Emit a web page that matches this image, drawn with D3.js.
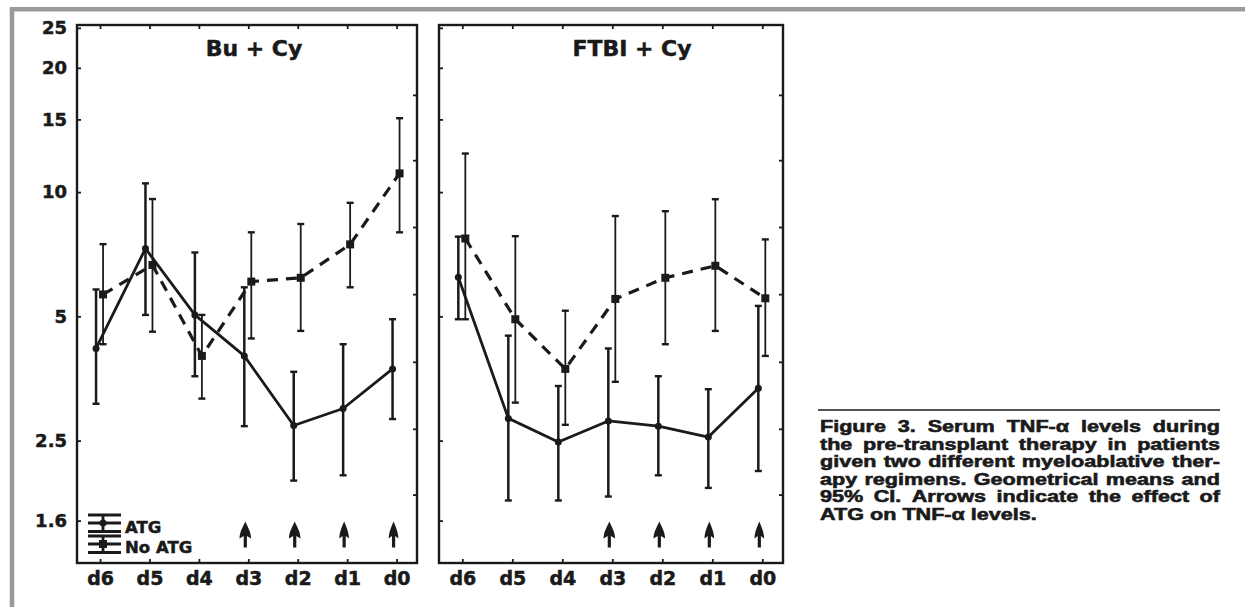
<!DOCTYPE html>
<html><head><meta charset="utf-8">
<script src="https://cdn.jsdelivr.net/npm/d3@7"></script>
<style>
body{margin:0;background:#fff}
svg{display:block}
text{font-family:"DejaVu Sans",sans-serif;font-weight:bold;fill:#1a1a1a;stroke:#1a1a1a;stroke-width:0.5px}
text.cap{font-family:"Liberation Sans",Arial,sans-serif;stroke-width:0.6px}
</style>
</head><body>
<svg id="c" width="1245" height="607"></svg>
<script>
// ---------- data ----------
const days = ["d6","d5","d4","d3","d2","d1","d0"];
const yTickLabels = [25, 20, 15, 10, 5, 2.5, 1.6];
const rightTicks = [17.2, 11.95, 8.23, 5.66, 3.88, 2.67, 1.85];
const arrowDays = ["d3","d2","d1","d0"];

// Bu + Cy
const buAtgMean = [4.18, 7.30, 5.04, 4.01, 2.72, 2.99, 3.73];
const buAtgLow  = [3.07, 5.04, 3.58, 2.71, 2.00, 2.06, 2.82];
const buAtgHigh = [5.81, 10.5, 7.14, 5.88, 3.67, 4.28, 4.92];
const buNoMean  = [5.65, 6.66, 4.01, 6.07, 6.20, 7.47, 11.1];
const buNoLow   = [4.28, 4.59, 3.16, 4.42, 4.61, 5.88, 7.99];
const buNoHigh  = [7.48, 9.62, 5.04, 7.99, 8.37, 9.42, 15.1];

// FTBI + Cy
const ftAtgMean = [6.22, 2.83, 2.48, 2.79, 2.71, 2.55, 3.35];
const ftAtgLow  = [4.92, 1.79, 1.79, 1.83, 2.06, 1.92, 2.11];
const ftAtgHigh = [7.80, 4.49, 3.39, 4.18, 3.58, 3.33, 5.30];
const ftNoMean  = [7.72, 4.92, 3.73, 5.51, 6.20, 6.63, 5.53];
const ftNoLow   = [4.92, 3.09, 2.73, 3.47, 4.28, 4.61, 4.01];
const ftNoHigh  = [12.4, 7.82, 5.16, 8.75, 8.99, 9.61, 7.68];

const legendLabels = ["ATG", "No ATG"];
const captionLines = [
  "Figure 3. Serum TNF-\u03b1 levels during",
  "the pre-transplant therapy in patients",
  "given two different myeloablative ther-",
  "apy regimens. Geometrical means and",
  "95% CI. Arrows indicate the effect of",
  "ATG on TNF-\u03b1 levels."
];

// ---------- layout ----------
const ink = "#1a1a1a";
const svg = d3.select("#c");
const yTop = 25, yBottom = 563;
const y = d3.scaleLog().domain([1.263, 25.4]).range([yBottom, yTop]);

// outer grey frame
svg.append("path").attr("d", "M12,607V9.2H1245")
  .attr("fill", "none").attr("stroke", "#9a9a9a").attr("stroke-width", 4.5);

function panel(x0, x1, title, titleX, atg, no, showY, showLegend) {
  const g = svg.append("g");
  const x = d3.scalePoint().domain(days).range([x0, x1]).padding(0.44).align(0.53);

  const styleAxis = a => {
    a.select(".domain").remove();
    a.selectAll(".tick line").attr("stroke", ink).attr("stroke-width", 1.8);
  };

  // left axis
  const left = d3.axisLeft(y).tickValues(yTickLabels).tickSizeInner(-4).tickSizeOuter(0).tickPadding(10)
    .tickFormat(showY ? d => String(d) : "");
  g.append("g").attr("transform", `translate(${x0},0)`).call(left).call(styleAxis)
    .call(a => a.selectAll("text").attr("font-family", null).attr("font-size", null)
      .style("font-size", "18px").attr("fill", ink));
  // right axis
  g.append("g").attr("transform", `translate(${x1},0)`)
    .call(d3.axisRight(y).tickValues(rightTicks).tickSizeInner(-4).tickSizeOuter(0).tickFormat(""))
    .call(styleAxis);
  // top axis
  g.append("g").attr("transform", `translate(0,${yTop})`)
    .call(d3.axisTop(x).tickSizeInner(-4).tickSizeOuter(0).tickFormat(""))
    .call(styleAxis);
  // bottom axis
  g.append("g").attr("transform", `translate(0,${yBottom})`)
    .call(d3.axisBottom(x).tickSizeInner(-4).tickSizeOuter(0).tickPadding(9))
    .call(styleAxis)
    .call(a => a.selectAll("text").style("font-size", "19px").attr("fill", ink));

  // frame
  g.append("rect").attr("x", x0).attr("y", yTop).attr("width", x1 - x0).attr("height", yBottom - yTop)
    .attr("fill", "none").attr("stroke", ink).attr("stroke-width", 2.4);

  // title
  g.append("text").attr("x", titleX).attr("y", 56).attr("text-anchor", "middle")
    .style("font-size", "22px").text(title);

  const series = [
    {mean: no.mean, low: no.low, high: no.high, dx: 3, dash: "11,8", lw: 3.2, bw: 1.8, marker: "square"},
    {mean: atg.mean, low: atg.low, high: atg.high, dx: -4, dash: null, lw: 2.8, bw: 2.5, marker: "circle"}
  ];
  series.forEach(s => {
    const px = i => x(days[i]) + s.dx;
    const eb = g.append("g").attr("stroke", ink).attr("stroke-width", s.bw);
    days.forEach((d, i) => {
      eb.append("line").attr("x1", px(i)).attr("x2", px(i)).attr("y1", y(s.low[i])).attr("y2", y(s.high[i]));
      eb.append("line").attr("x1", px(i) - 3.5).attr("x2", px(i) + 3.5).attr("y1", y(s.low[i])).attr("y2", y(s.low[i])).attr("stroke-width", 2.4);
      eb.append("line").attr("x1", px(i) - 3.5).attr("x2", px(i) + 3.5).attr("y1", y(s.high[i])).attr("y2", y(s.high[i])).attr("stroke-width", 2.4);
    });
    const line = d3.line().x((d, i) => px(i)).y(d => y(d));
    g.append("path").attr("d", line(s.mean)).attr("fill", "none").attr("stroke", ink)
      .attr("stroke-width", s.lw).attr("stroke-dasharray", s.dash).attr("stroke-linejoin", "round");
    if (s.marker === "circle") {
      g.selectAll(null).data(s.mean).enter().append("circle")
        .attr("cx", (d, i) => px(i)).attr("cy", d => y(d)).attr("r", 3.5).attr("fill", ink);
    } else {
      g.selectAll(null).data(s.mean).enter().append("rect")
        .attr("x", (d, i) => px(i) - 4).attr("y", d => y(d) - 4).attr("width", 8).attr("height", 8).attr("fill", ink);
    }
  });

  // arrows
  const ay = y(1.6) + 1;
  arrowDays.forEach((d, k) => {
    const ax = x(d) - 3;
    const hw = k < 2 ? 5.8 : 4.8;
    g.append("path")
      .attr("d", `M${ax},${ay} C${ax + 1.5},${ay + 4} ${ax + hw},${ay + 10} ${ax + hw},${ay + 17} L${ax + 1.6},${ay + 14.5} V${ay + 26} H${ax - 1.6} V${ay + 14.5} L${ax - hw},${ay + 17} C${ax - hw},${ay + 10} ${ax - 1.5},${ay + 4} ${ax},${ay} Z`)
      .attr("fill", ink);
  });

  if (showLegend) {
    const lx = x0 + 11, lw = 33, cx = lx + 15;
    legendLabels.forEach((lab, k) => {
      const ty = 515 + k * 21;
      const lg = g.append("g").attr("stroke", ink).attr("stroke-width", 2.8);
      lg.append("line").attr("x1", lx).attr("x2", lx + lw).attr("y1", ty).attr("y2", ty);
      lg.append("line").attr("x1", lx).attr("x2", lx + lw).attr("y1", ty + 8).attr("y2", ty + 8);
      lg.append("line").attr("x1", lx).attr("x2", lx + lw).attr("y1", ty + 16.5).attr("y2", ty + 16.5);
      lg.append("line").attr("x1", cx).attr("x2", cx).attr("y1", ty).attr("y2", ty + 16.5);
      if (k === 0) g.append("circle").attr("cx", cx).attr("cy", ty + 8).attr("r", 3.5).attr("fill", ink);
      else g.append("rect").attr("x", cx - 4).attr("y", ty + 4).attr("width", 8).attr("height", 8).attr("fill", ink);
      g.append("text").attr("x", lx + 37).attr("y", ty + 18 - k * 1.5).style("font-size", "16.5px").text(lab);
    });
  }
}

panel(77, 417, "Bu + Cy", 254,
  {mean: buAtgMean, low: buAtgLow, high: buAtgHigh},
  {mean: buNoMean, low: buNoLow, high: buNoHigh}, true, true);
panel(439, 783, "FTBI + Cy", 632,
  {mean: ftAtgMean, low: ftAtgLow, high: ftAtgHigh},
  {mean: ftNoMean, low: ftNoLow, high: ftNoHigh}, false, false);

// ---------- caption ----------
const capX0 = 820, capX1 = 1220, capY0 = 432, capLH = 17.55;
svg.append("line").attr("x1", 818).attr("x2", capX1).attr("y1", 410).attr("y2", 410)
  .attr("stroke", ink).attr("stroke-width", 1.3);
const cg = svg.append("g").style("font-size", "17px");
const tmp = cg.append("text").attr("class", "cap");
const wd = s => { tmp.text(s); return tmp.node().getComputedTextLength(); };
const spaceW = wd("a a") - wd("aa");
let maxNat = 0;
captionLines.forEach(l => { maxNat = Math.max(maxNat, wd(l)); });
const sx = Math.max(1, Math.min(1.3, (capX1 - capX0 - 5) / maxNat));
const inner = cg.append("g").attr("transform", `translate(${capX0},0) scale(${sx},1)`);
captionLines.forEach((l, li) => {
  const words = l.split(" ");
  const ws = words.map(wd);
  const sum = d3.sum(ws);
  const last = li === captionLines.length - 1;
  const gap = last ? spaceW : ((capX1 - capX0) / sx - sum) / (words.length - 1);
  let cx = 0;
  words.forEach((w, i) => {
    inner.append("text").attr("class", "cap").attr("x", cx).attr("y", capY0 + li * capLH).text(w);
    cx += ws[i] + gap;
  });
});
tmp.remove();
</script>
</body></html>
